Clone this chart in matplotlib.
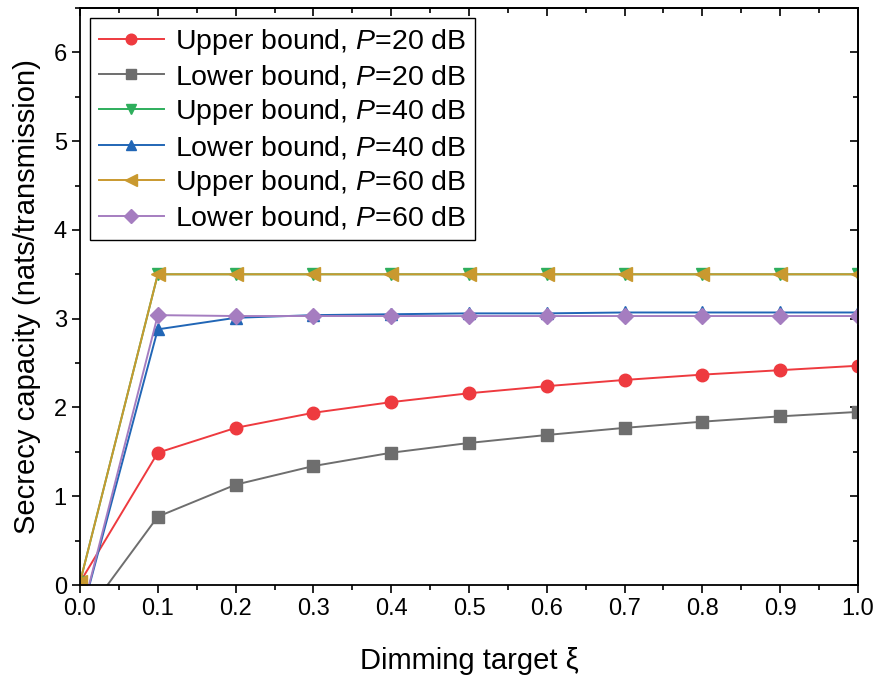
import matplotlib
matplotlib.use("Agg")
import matplotlib.pyplot as plt
from matplotlib.ticker import MultipleLocator

xi = [0.0, 0.1, 0.2, 0.3, 0.4, 0.5, 0.6, 0.7, 0.8, 0.9, 1.0]
upper_20 = [0.03, 1.49, 1.77, 1.94, 2.06, 2.16, 2.24, 2.31, 2.37, 2.42, 2.47]
lower_20 = [-0.42, 0.77, 1.13, 1.34, 1.49, 1.60, 1.69, 1.77, 1.84, 1.90, 1.95]
upper_40 = [0.03, 3.50, 3.50, 3.50, 3.50, 3.50, 3.50, 3.50, 3.50, 3.50, 3.50]
lower_40 = [-0.40, 2.88, 3.01, 3.04, 3.05, 3.06, 3.06, 3.07, 3.07, 3.07, 3.07]
upper_60 = [0.03, 3.50, 3.50, 3.50, 3.50, 3.50, 3.50, 3.50, 3.50, 3.50, 3.50]
lower_60 = [-0.40, 3.04, 3.03, 3.03, 3.03, 3.03, 3.03, 3.03, 3.03, 3.03, 3.03]

labels = ["Upper bound, $\\mathit{P}$=20 dB", "Lower bound, $\\mathit{P}$=20 dB",
          "Upper bound, $\\mathit{P}$=40 dB", "Lower bound, $\\mathit{P}$=40 dB",
          "Upper bound, $\\mathit{P}$=60 dB", "Lower bound, $\\mathit{P}$=60 dB"]

plt.rcParams['font.family'] = ['Liberation Sans', 'DejaVu Sans']
plt.rcParams['mathtext.fontset'] = 'custom'
plt.rcParams['mathtext.it'] = 'Liberation Sans:italic'
plt.rcParams['mathtext.rm'] = 'Liberation Sans'

fig = plt.figure(figsize=(8.78, 6.81), dpi=100)
ax = fig.add_axes([80/878, 1-585/681, 778/878, 577/681])

series = [
    (upper_20, '#EE3A3F', 'o', 9),
    (lower_20, '#6E6E6E', 's', 8),
    (upper_40, '#2EAE5C', 'v', 9),
    (lower_40, '#2166B6', '^', 9),
    (upper_60, '#C9992F', '<', 9.5),
    (lower_60, '#A57DC0', 'D', 8),
]
for (ys, c, m, ms), lab in zip(series, labels):
    ax.plot(xi, ys, color=c, marker=m, markersize=ms, lw=1.4, label=lab,
            markeredgecolor=c)

ax.set_xlim(0, 1.0)
ax.set_ylim(0, 6.5)
ax.xaxis.set_major_locator(MultipleLocator(0.1))
ax.xaxis.set_minor_locator(MultipleLocator(0.05))
ax.yaxis.set_major_locator(MultipleLocator(1))
ax.yaxis.set_minor_locator(MultipleLocator(0.5))
ax.set_xticklabels([f"{v:.1f}" for v in ax.get_xticks()])
ax.tick_params(axis='both', which='major', direction='out', length=6, width=1.2,
               labelsize=17, top=False, right=False)
ax.tick_params(axis='both', which='minor', direction='out', length=3.5, width=1.2,
               top=False, right=False)
# inward ticks on top and right
ax2 = ax.secondary_xaxis('top')
ax2.xaxis.set_major_locator(MultipleLocator(0.1))
ax2.xaxis.set_minor_locator(MultipleLocator(0.05))
ax2.tick_params(which='major', direction='in', length=6, width=1.2, labeltop=False)
ax2.tick_params(which='minor', direction='in', length=3.5, width=1.2)
ax3 = ax.secondary_yaxis('right')
ax3.yaxis.set_major_locator(MultipleLocator(1))
ax3.yaxis.set_minor_locator(MultipleLocator(0.5))
ax3.tick_params(which='major', direction='in', length=6, width=1.2, labelright=False)
ax3.tick_params(which='minor', direction='in', length=3.5, width=1.2)
for sp in list(ax.spines.values()) + [ax2.spines['top'], ax3.spines['right']]:
    sp.set_linewidth(1.3)

ax.set_xlabel("Dimming target ξ", fontsize=21, labelpad=19)
ax.set_ylabel("Secrecy capacity (nats/transmission)", fontsize=21, labelpad=9)

leg = ax.legend(loc='upper left', fontsize=20.5, frameon=True, fancybox=False,
                edgecolor='black', framealpha=1, handlelength=2.3, handletextpad=0.4,
                labelspacing=0.24, borderpad=0.3, borderaxespad=0.35, markerscale=0.85)
leg.get_frame().set_linewidth(1.0)

fig.savefig("out.png", dpi=100)
